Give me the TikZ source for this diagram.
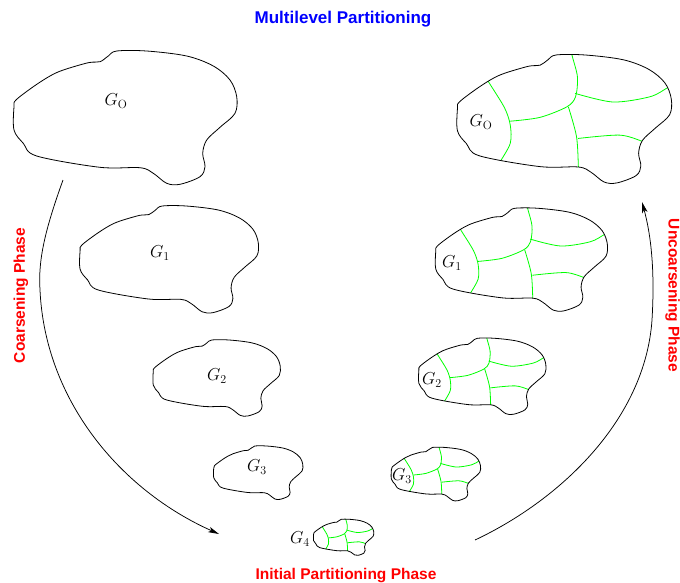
\documentclass[tikz,border=0pt]{standalone}
\usepackage{amsmath}
\usepackage{fontspec}
\newfontfamily\arial{Liberation Sans}
\usetikzlibrary{arrows.meta}

% contorno del grafo (origine in alto a sinistra)
\newcommand{\grafo}{plot[smooth cycle, tension=0.55] coordinates {(1,56.7) (3,50) (20.3,36.7) (37,26) (50.3,20) (75.3,12.7) (87,11.7) (95.3,6) (103.7,1) (133.7,1) (173.7,6) (200.3,16) (217,30) (223.7,46.7) (222,63.3) (207,77.3) (193.7,90) (189.7,103.3) (192,116.7) (187,126.7) (167,134.3) (153.7,133.3) (140.3,123.3) (127,117.7) (87,117.3) (23.7,106) (10.3,93.3) (1,80)}}

% linee della partizione
\newcommand{\tagli}{%
	\draw[taglio] plot[smooth] coordinates {(28,20) (34,30) (50,56) (56,74) (56,93) (45,113) (40,122)};
	\draw[taglio] plot[smooth] coordinates {(119,-6) (120.5,2) (126,24) (124,44.5) (115,55) (87,66) (56,70)};
	\draw[taglio] plot[smooth] coordinates {(123.5,41) (163,50) (201.6,44.5) (220.6,34.7) (232,29)};
	\draw[taglio] plot[smooth] coordinates {(116.5,55) (125,86) (127,119) (127,130)};
	\draw[taglio] plot[smooth] coordinates {(126.5,88) (170,84.5) (195,91.5) (206,96)};
}

\newcommand{\semplice}[2]{% origine, scala
	\begin{scope}[shift={#1}, scale=#2]
		\draw[contorno] \grafo;
	\end{scope}}

\newcommand{\partito}[2]{% origine, scala
	\begin{scope}[shift={#1}, scale=#2]
		\begin{scope}
			\clip \grafo;
			\tagli
		\end{scope}
		\draw[contorno] \grafo;
	\end{scope}}

\tikzset{
	contorno/.style={line width=0.8pt},
	taglio/.style={green, line width=0.8pt},
	etichetta/.style={inner sep=0pt, font=\fontsize{17}{20}\selectfont},
	fase/.style={red, inner sep=0pt, font=\arial\bfseries\fontsize{15.5}{18}\selectfont},
	titolo/.style={blue, inner sep=0pt, font=\arial\bfseries\fontsize{17}{20}\selectfont},
	freccia/.style={line width=0.75pt, -{Stealth[length=11pt, width=5.5pt, inset=3pt]}}
}

\begin{document}
\begin{tikzpicture}[x=1pt, y=-1pt]
	\useasboundingbox (0,0) rectangle (680,582);

	\node[titolo, anchor=base] (titolo) at (343,23) {Multilevel Partitioning};

	% fase di coarsening
	\semplice{(13,50)}{1}
	\semplice{(79.3,205.2)}{0.8}
	\semplice{(152.7,339.4)}{0.57}
	\semplice{(213.3,445.6)}{0.40}

	\node[etichetta] (g0a) at (116,101) {$G_{\mathrm{O}}$};
	\node[etichetta] (g1a) at (160,253) {$G_1$};
	\node[etichetta] (g2a) at (217,376) {$G_2$};
	\node[etichetta] (g3a) at (257,467) {$G_3$};

	% partizione iniziale
	\partito{(313.3,519)}{0.27}
	\node[etichetta] (g4) at (300,539) {$G_4$};

	% fase di uncoarsening
	\partito{(391,447)}{0.40}
	\partito{(418.3,337.7)}{0.57}
	\partito{(435,207.5)}{0.77}
	\partito{(456.5,54)}{0.96}

	\node[etichetta] (g3b) at (402,476) {$G_3$};
	\node[etichetta] (g2b) at (432,380) {$G_2$};
	\node[etichetta] (g1b) at (452,263) {$G_1$};
	\node[etichetta] (g0b) at (481,122) {$G_{\mathrm{O}}$};

	% frecce
	\coordinate (c1) at (63,180);
	\coordinate (c2) at (40,290);
	\coordinate (c3) at (219,534);
	\draw[freccia] (c1) .. controls (45,230) and (38,260) .. (c2) .. controls (45,400) and (120,490) .. (c3); % da G_O a G_4

	\coordinate (d1) at (475,540);
	\coordinate (d2) at (652,320);
	\coordinate (d3) at (642,202);
	\draw[freccia] (d1) .. controls (560,500) and (645,420) .. (d2) .. controls (655,270) and (651,235) .. (d3); % da G_4 a G_O

	\node[fase, rotate=90] (coars) at (20.8,295.5) {Coarsening Phase};
	\node[fase, rotate=-90] (uncoars) at (672.5,295.5) {Uncoarsening Phase};
	\node[fase, anchor=base] (iniz) at (346,579) {Initial Partitioning Phase};
\end{tikzpicture}
\end{document}
